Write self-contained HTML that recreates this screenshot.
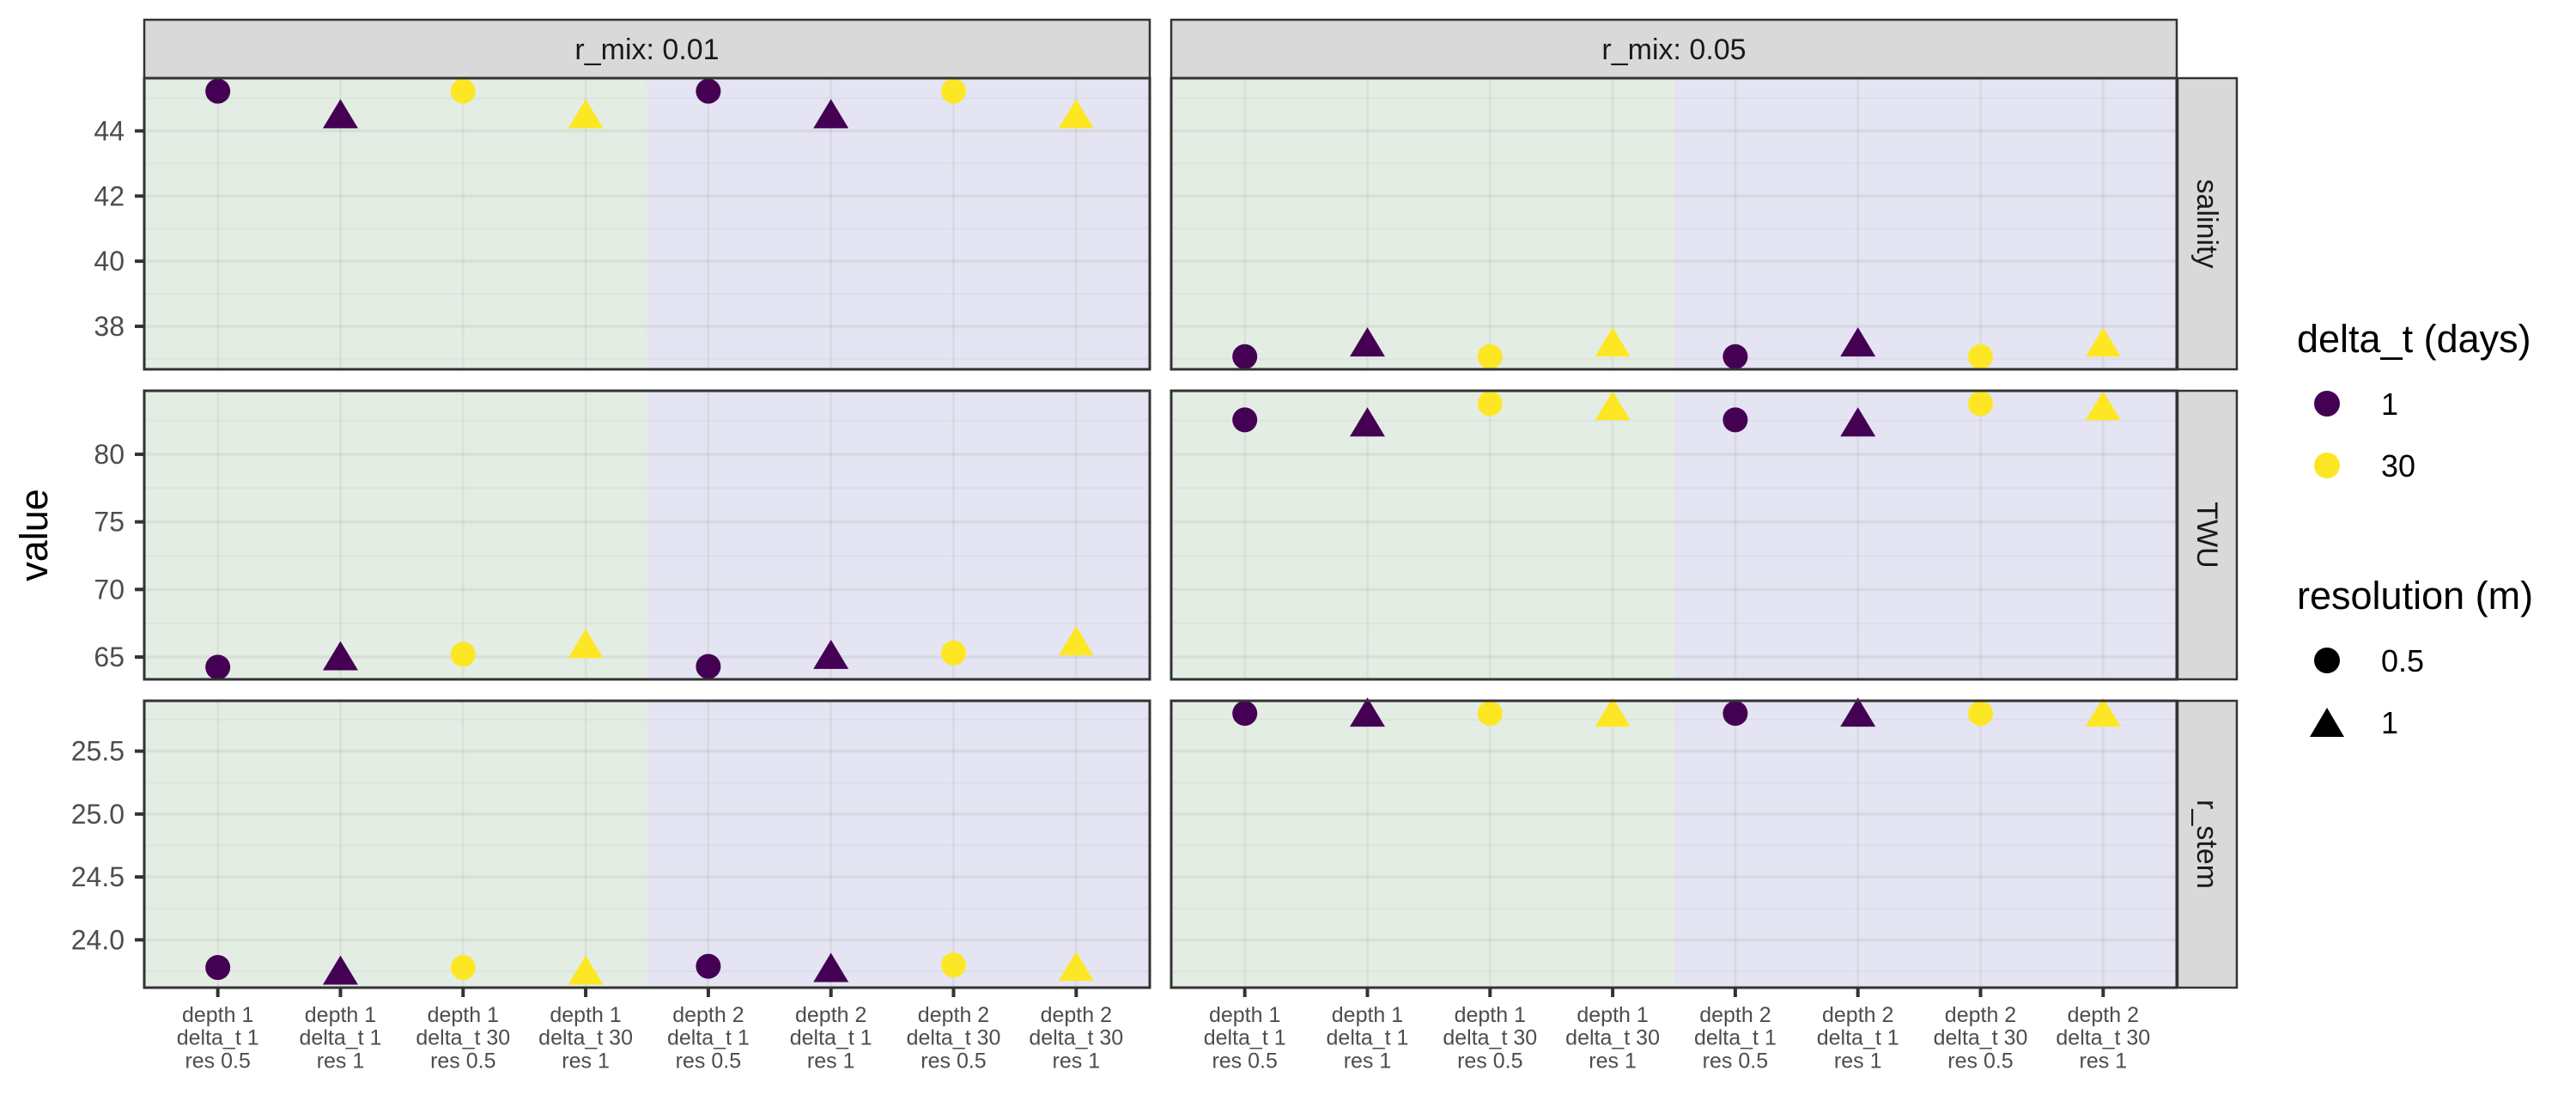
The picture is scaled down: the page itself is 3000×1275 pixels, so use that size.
<!DOCTYPE html>
<html><head><meta charset="utf-8"><style>
html,body{margin:0;padding:0;background:#fff;}
svg{display:block;font-family:"Liberation Sans",sans-serif;}
</style></head><body>
<svg id="chart" width="3000" height="1275" viewBox="0 0 3000 1275" xmlns="http://www.w3.org/2000/svg">
<g id="panels"></g>
<text x="43" y="623" font-size="45" fill="#000" text-anchor="middle" transform="rotate(-90 43 623)" dominant-baseline="middle">value</text>
<g id="legend">
<text x="2675" y="410" font-size="45" fill="#000">delta_t (days)</text>
<circle cx="2710" cy="470" r="15" fill="#440154"/>
<text x="2773" y="483" font-size="36" fill="#000">1</text>
<circle cx="2710" cy="542" r="15" fill="#FDE725"/>
<text x="2773" y="555" font-size="36" fill="#000">30</text>
<text x="2675" y="709" font-size="45" fill="#000">resolution (m)</text>
<circle cx="2710" cy="769" r="15" fill="#000"/>
<text x="2773" y="782" font-size="36" fill="#000">0.5</text>
<polygon points="2710,824 2730,858 2690,858" fill="#000"/>
<text x="2773" y="854" font-size="36" fill="#000">1</text>
</g>
</svg>
<script>
const categories = ["depth 1|delta_t 1|res 0.5","depth 1|delta_t 1|res 1","depth 1|delta_t 30|res 0.5","depth 1|delta_t 30|res 1","depth 2|delta_t 1|res 0.5","depth 2|delta_t 1|res 1","depth 2|delta_t 30|res 0.5","depth 2|delta_t 30|res 1"];
const deltaT = [1,1,30,30,1,1,30,30];
const resolution = [0.5,1,0.5,1,0.5,1,0.5,1];
const columnLabels = ["r_mix: 0.01","r_mix: 0.05"];
const rowLabels = ["salinity","TWU","r_stem"];
const salinity001 = [45.22,44.53,45.22,44.53,45.22,44.53,45.22,44.53];
const salinity005 = [37.07,37.52,37.07,37.52,37.07,37.52,37.07,37.52];
const twu001 = [64.25,65.1,65.2,66.0,64.3,65.2,65.3,66.2];
const twu005 = [82.55,82.4,83.75,83.6,82.55,82.4,83.75,83.6];
const rstem001 = [23.78,23.76,23.78,23.76,23.79,23.78,23.80,23.79];
const rstem005 = [25.80,25.81,25.80,25.81,25.80,25.81,25.80,25.81];
const salinityTicks = [38,40,42,44];
const twuTicks = [65,70,75,80];
const rstemTicks = [24.0,24.5,25.0,25.5];
const salinityDomain = [36.68,45.62];
const twuDomain = [63.35,84.7];
const rstemDomain = [23.62,25.90];

const NS="http://www.w3.org/2000/svg";
const root=document.getElementById('panels');
function mk(tag,attrs,parent){const e=document.createElementNS(NS,tag);for(const k in attrs)e.setAttribute(k,attrs[k]);(parent||root).appendChild(e);return e;}

const colX=[168,1364], panelW=1171;
const rowY=[[91,430],[455,791],[816,1150]];
const rowsData=[[salinity001,salinity005],[twu001,twu005],[rstem001,rstem005]];
const rowTicks=[salinityTicks,twuTicks,rstemTicks];
const rowDomains=[salinityDomain,twuDomain,rstemDomain];
const rowDec=[0,0,1];
const n=categories.length, unit=panelW/(n-1+1.2);
function xScale(c,i){return colX[c]+unit*(0.6+i);}
function yScale(r,v){const d=rowDomains[r];return rowY[r][1]-(v-d[0])/(d[1]-d[0])*(rowY[r][1]-rowY[r][0]);}
const colorOf=d=>d===1?"#440154":"#FDE725";

for(let c=0;c<2;c++){
  const s=mk('rect',{x:colX[c],y:23,width:panelW,height:68,fill:"#d9d9d9",stroke:"#333",'stroke-width':2.5});
  
  
  const t=mk('text',{x:colX[c]+panelW/2,y:69,'font-size':34,fill:"#1a1a1a",'text-anchor':'middle'});
  t.textContent=columnLabels[c];
  
  
}
for(let r=0;r<3;r++){
  const [y0,y1]=rowY[r];
  const rs=mk('rect',{x:2536,y:y0,width:69,height:y1-y0,fill:"#d9d9d9",stroke:"#333",'stroke-width':2.5});
  
  
  const cy=(y0+y1)/2;
  const rt=mk('text',{x:2570,y:cy,'font-size':34,fill:"#1a1a1a",'text-anchor':'middle','dominant-baseline':'central',transform:`rotate(90 2570 ${cy})`});
  rt.textContent=rowLabels[r];
  
  
  const ticks=rowTicks[r], d=rowDomains[r], step=ticks[1]-ticks[0];
  for(let c=0;c<2;c++){
    const g=mk('g',{});
    
    
    const x0=colX[c], mid=(xScale(c,3)+xScale(c,4))/2;
    const gr=mk('rect',{x:x0,y:y0,width:mid-x0,height:y1-y0,fill:"#e4ede4"},g);
    
    
    const pr=mk('rect',{x:mid,y:y0,width:x0+panelW-mid,height:y1-y0,fill:"#e4e4f2"},g);
    
    
    for(let v=ticks[0]-step/2;v<=d[1];v+=step){
      if(v<d[0])continue;
      const y=yScale(r,v);
      const l=mk('line',{x1:x0,x2:x0+panelW,y1:y,y2:y,stroke:"rgba(0,0,0,0.03)",'stroke-width':2},g);
      
      
    }
    ticks.forEach(v=>{
      const y=yScale(r,v);
      const l=mk('line',{x1:x0,x2:x0+panelW,y1:y,y2:y,stroke:"rgba(0,0,0,0.05)",'stroke-width':3.5},g);
      
      
    });
    for(let i=0;i<n;i++){
      const x=xScale(c,i);
      const l=mk('line',{x1:x,x2:x,y1:y0,y2:y1,stroke:"rgba(0,0,0,0.045)",'stroke-width':3},g);
      
      
    }
    const vals=rowsData[r][c];
    vals.forEach((v,i)=>{
      const x=xScale(c,i), y=yScale(r,v), col=colorOf(deltaT[i]);
      let p;
      if(resolution[i]===0.5){p=mk('circle',{cx:x,cy:y,r:14.5,fill:col},g);}
      else{p=mk('polygon',{points:`${x},${y-17} ${x+20.5},${y+17} ${x-20.5},${y+17}`,fill:col},g);}
      
      
    });
    const b=mk('rect',{x:x0,y:y0,width:panelW,height:y1-y0,fill:"none",stroke:"#333",'stroke-width':3},g);
    
    
  }
  ticks.forEach(v=>{
    const y=yScale(r,v);
    const tk=mk('line',{x1:157,x2:168,y1:y,y2:y,stroke:"#333",'stroke-width':4});
    
    
    const tl=mk('text',{x:145,y:y+11,'font-size':32,fill:"#4d4d4d",'text-anchor':'end'});
    tl.textContent=v.toFixed(rowDec[r]);
    
    
  });
}
for(let c=0;c<2;c++){
  categories.forEach((cat,i)=>{
    const x=xScale(c,i);
    const tk=mk('line',{x1:x,x2:x,y1:1150,y2:1161,stroke:"#333",'stroke-width':4});
    
    
    const t=mk('text',{x:x,y:1190,'font-size':25,fill:"#4d4d4d",'text-anchor':'middle'});
    
    
    cat.split('|').forEach((ln,k)=>{const s=mk('tspan',{x:x,dy:k===0?0:26.7},t);s.textContent=ln;});
  });
}
</script>
</body></html>
